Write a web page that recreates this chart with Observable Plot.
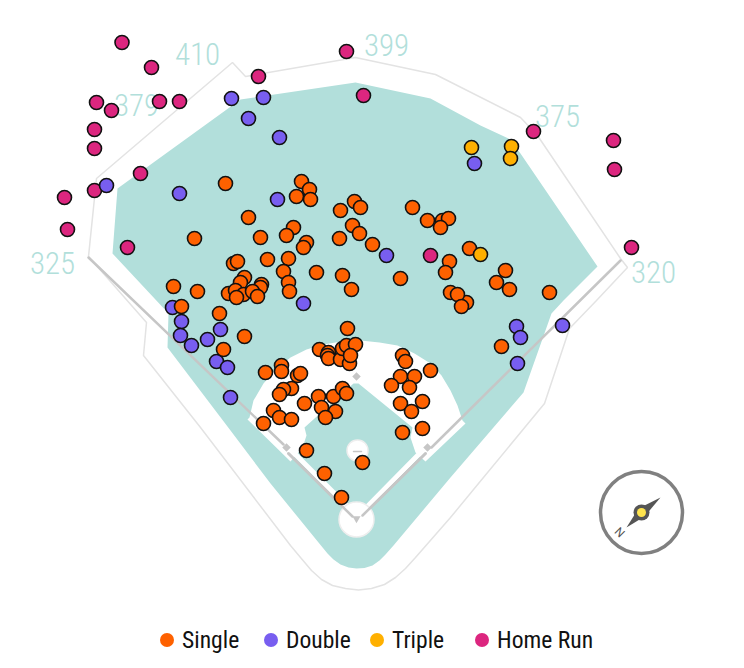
<!DOCTYPE html>
<html><head><meta charset="utf-8">
<script src="https://cdn.jsdelivr.net/npm/d3@7"></script>
<script src="https://cdn.jsdelivr.net/npm/@observablehq/plot@0.6"></script>
<style>
html,body{margin:0;padding:0;background:#fff}
#legend{position:relative;height:48px;width:744px;font-family:"Roboto Condensed","Liberation Sans Narrow",Roboto,sans-serif;font-size:23.6px;color:#111}
#legend .item{position:absolute;top:0;height:40px;display:flex;align-items:center}
#legend .sw{width:14px;height:14px;border-radius:50%;margin-right:8px;display:inline-block}
</style></head><body>
<div id="chart"></div><div id="legend"></div>
<script>
const types = ["Single","Double","Triple","Home Run"];
const typeColors = ["#fe6100","#785ef0","#ffb000","#dc267f"];
const legendLeft = [160,264,370,475];

const singles = [[244,336],[347,328],[319,349],[328,352],[327,355],[328,358],[340,359],[349,363],[342,348],[346,345],[355,344],[350,355],
[402,355],[405,361],[430,370],[400,376],[414,376],[391,385],[409,387],[400,403],[422,401],[411,411],[422,428],[402,432],
[281,365],[281,371],[265,372],[297,375],[300,373],[291,388],[283,389],[279,394],[304,403],[318,396],[333,396],[342,388],[346,393],[321,407],[335,411],[325,417],[273,410],[279,417],[291,419],[263,423],
[306,450],[324,473],[341,497],[362,462],
[225,183],[301,181],[309,189],[296,196],[310,199],[248,217],[194,238],[260,237],[293,227],[286,235],[306,242],[303,247],
[340,210],[354,201],[360,207],[352,225],[359,233],[339,238],[372,244],[412,207],[427,220],[442,220],[448,218],[440,227],[469,248],[449,261],[445,272],[342,275],[351,289],[400,278],[496,282],[505,270],[509,289],[450,292],[466,302],[457,294],[461,306],[549,292],[501,346],
[267,259],[233,263],[237,261],[288,258],[283,271],[288,282],[289,291],[316,272],[173,286],[197,291],[244,277],[240,282],[261,284],[260,287],[228,293],[235,290],[243,294],[252,291],[257,296],[236,297],[181,306],[219,313],[223,349]];
const doubles = [[172,307],[106,185],[179,193],[231,98],[263,97],[248,118],[279,137],[474,163],[277,199],[303,303],[386,255],[516,326],[520,337],[562,325],[517,363],[181,321],[180,335],[191,345],[207,339],[220,329],[216,361],[227,367],[230,397]];
const triples = [[471,147],[511,146],[510,158],[480,254]];
const homeRuns = [[121.5,42],[151,67],[96,102],[111,110],[159,101],[179,101],[94,129],[94,148],[140,173],[94,190],[64,197],[67,229],[127,247],[258,76],[346,51],[363,95],[533,131],[613,140],[614,169],[631,247],[430,255]];

const distances = ["410","379","399","375","320","325"];
const distanceX = [197,136,386,557,653,52];
const distanceY = [55,106,46,117,273,264];

const wall = [[88,256],[96,178],[232,62],[245,76],[355,57],[435,74],[520,117],[537,135],[620,258],[627,267],[596,300],[569,328],[544,403],[478,483],[450,517],[415,557],[405,568],[395,577],[384,584],[371,588],[358,589.5],[345,588],[332,585],[321,579],[311,570],[300,557],[290,545],[200,427],[143,355],[146,322],[88,256]];
const grass = [[355,82],[430,98],[480,125],[508,138],[520,153],[597,266],[563,300],[551,313],[523,392],[450,477],[393,545],[385,554],[379,560],[372,565],[364,567.5],[356,568],[348,567],[340,564],[333,559],[327,553],[318,542],[270,483],[230,430],[167,347],[168,313],[112,253],[117,188],[240,99]];
const dirt = [[247,419],[249,417],[253,400],[263,383],[275,369],[290,357],[306,349],[323,344],[341,341],[360,340],[379,342],[397,345],[414,353],[430,363],[441,375],[450,390],[457,405],[462,420],[465,423],[425,461],[415,452],[410,437],[412,427],[358,383],[353,383],[304,427],[306,435],[302,447],[290,461]];
const leftLineOuter = [[88,257],[283,444]];
const leftLineInner = [[288,453],[352,516]];
const rightLineOuter = [[620,260],[431,447]];
const rightLineInner = [[425,453],[362,515]];
const leftStrip = [[292,451],[354,513]];
const rightStrip = [[422,450],[360,513]];
const bases = [[286,447],[427,447],[356,376]];
const homePlate = [[356,518]];
const homeCircle = [[356,519]];
const mound = [[357,450]];
const rubber = [[353,451],[361,451]];
const compassCenter = [[641,512]];
const needle = [[660,497],[644,516],[626,527],[638,508]];
const compassN = [[619,532]];

const fx = d => d[0], fy = d => d[1];
const table = (pts, t) => pts.map(([x,y]) => ({x,y,type:t}));
const hits = [...table(homeRuns,"Home Run"),...table(doubles,"Double"),...table(singles,"Single"),...table(triples,"Triple")];
const labels = distances.map((t,i)=>({t,x:distanceX[i],y:distanceY[i]}));
const narrow = '"Roboto Condensed","Liberation Sans Narrow",Roboto,sans-serif';

const plot = Plot.plot({
  width:744, height:620, margin:0,
  x:{domain:[0,744],range:[0,744],axis:null},
  y:{domain:[0,620],range:[0,620],axis:null},
  color:{domain:types,range:typeColors},
  marks:[
    Plot.line(grass,{x:fx,y:fy,fill:"#b2dfdb",stroke:"none"}),
    Plot.line(wall,{x:fx,y:fy,stroke:"#e3e3e3",strokeWidth:1.5,strokeLinejoin:"miter"}),
    Plot.line(dirt,{x:fx,y:fy,fill:"#fff",stroke:"none"}),
    Plot.line(leftStrip,{x:fx,y:fy,stroke:"#fff",strokeWidth:5}),
    Plot.line(rightStrip,{x:fx,y:fy,stroke:"#fff",strokeWidth:5}),
    Plot.line(leftLineOuter,{x:fx,y:fy,stroke:"#c6c6c6",strokeWidth:2.5}),
    Plot.line(leftLineInner,{x:fx,y:fy,stroke:"#c6c6c6",strokeWidth:2.5}),
    Plot.line(rightLineOuter,{x:fx,y:fy,stroke:"#c6c6c6",strokeWidth:2.5}),
    Plot.line(rightLineInner,{x:fx,y:fy,stroke:"#c6c6c6",strokeWidth:2.5}),
    Plot.dot(mound,{x:fx,y:fy,r:10.5,fill:"#fff",stroke:"#eeeeee",strokeWidth:1.5}),
    Plot.line(rubber,{x:fx,y:fy,stroke:"#c6c6c6",strokeWidth:1.5}),
    Plot.dot(homeCircle,{x:fx,y:fy,r:17.5,fill:"#fff",stroke:"#eeeeee",strokeWidth:1.5}),
    Plot.line(leftLineInner.slice(-2),{x:fx,y:fy,stroke:"#c6c6c6",strokeWidth:2.5}),
    Plot.line(rightLineInner.slice(-2),{x:fx,y:fy,stroke:"#c6c6c6",strokeWidth:2.5}),
    Plot.dot(bases,{x:fx,y:fy,symbol:"square",rotate:45,r:3.4,fill:"#c6c6c6",stroke:"none"}),
    Plot.dot(homePlate,{x:fx,y:fy,symbol:"triangle",rotate:180,r:3,fill:"#c6c6c6",stroke:"none"}),
    Plot.text(labels,{x:"x",y:"y",text:"t",fill:"#b2dfdb",fontSize:31,fontFamily:narrow,fontWeight:300}),
    Plot.dot(hits,{x:"x",y:"y",fill:"type",r:7,stroke:"#111",strokeWidth:1.6}),
    Plot.dot(compassCenter,{x:fx,y:fy,r:41,fill:"#fff",stroke:"#808080",strokeWidth:3.5}),
    Plot.line(needle,{x:fx,y:fy,fill:"#555",stroke:"none"}),
    Plot.dot(compassCenter,{x:fx,y:fy,r:8,fill:"#555",stroke:"none"}),
    Plot.dot(compassCenter,{x:fx,y:fy,r:4.5,fill:"#ffe44d",stroke:"none"}),
    Plot.text(compassN,{x:fx,y:fy,text:()=>"N",rotate:45,fontSize:12,fill:"#555",fontFamily:"Roboto,sans-serif"})
  ]
});
document.getElementById("chart").appendChild(plot);
const lg = document.getElementById("legend");
types.forEach((t,i)=>{
  const el=document.createElement("div");el.className="item";el.style.left=legendLeft[i]+"px";
  const sw=document.createElement("span");sw.className="sw";sw.style.background=typeColors[i];
  const tx=document.createElement("span");tx.textContent=t;
  el.append(sw,tx);lg.appendChild(el);
});
</script>
</body></html>
